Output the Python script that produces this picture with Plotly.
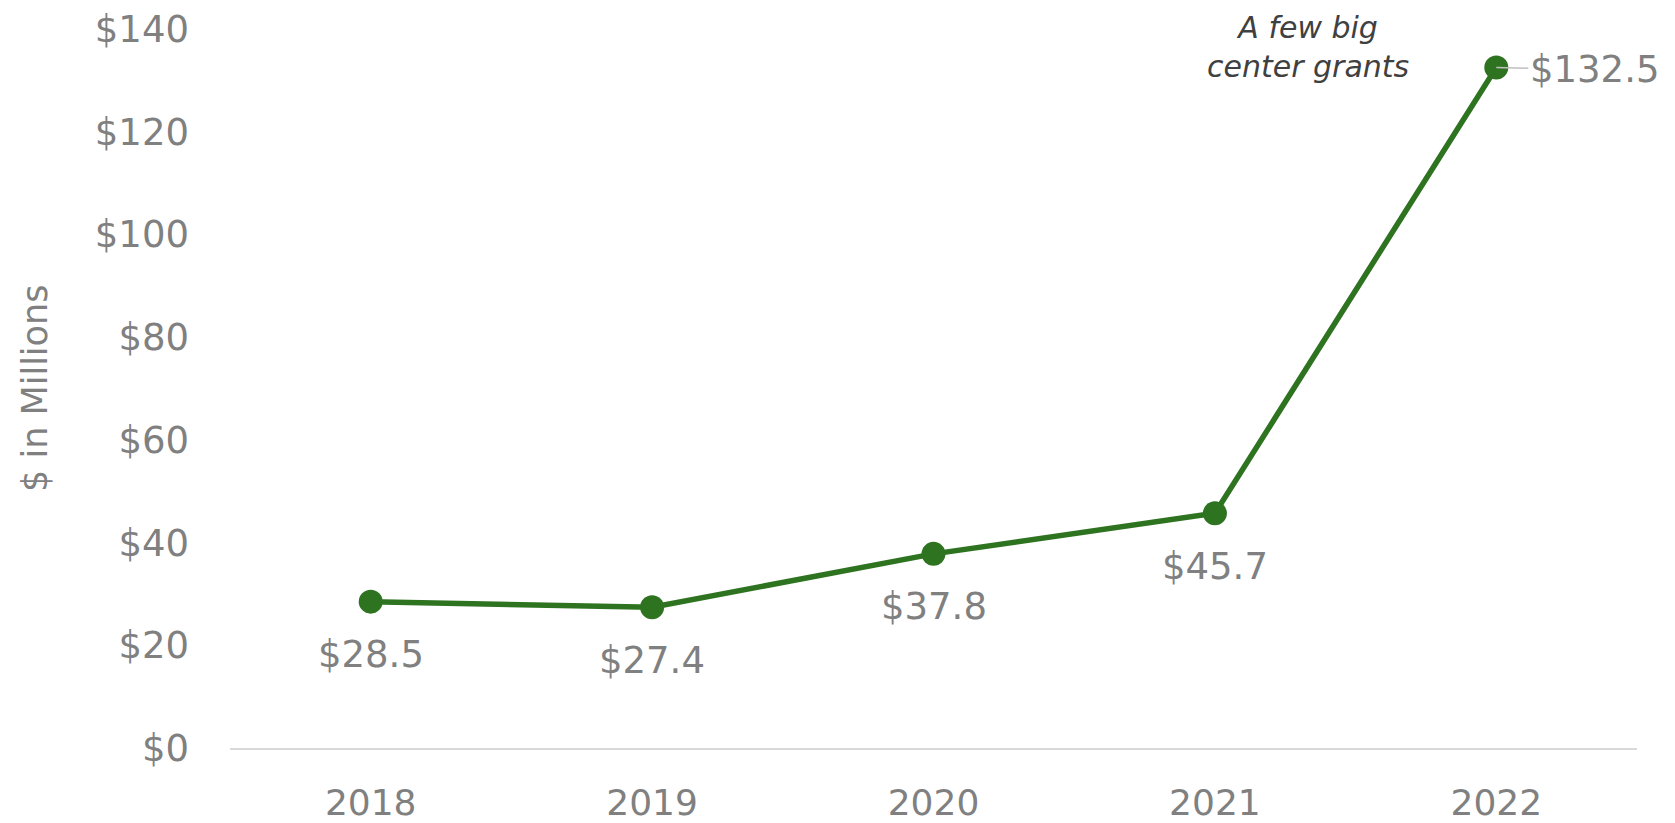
import plotly.graph_objects as go

years = ["2018", "2019", "2020", "2021", "2022"]
values = [28.5, 27.4, 37.8, 45.7, 132.5]
labels = ["$28.5", "$27.4", "$37.8", "$45.7", "$132.5"]
y_ticks = [0, 20, 40, 60, 80, 100, 120, 140]
y_tick_text = ["$0", "$20", "$40", "$60", "$80", "$100", "$120", "$140"]

GREEN = "#2e7320"
GRAY = "#808080"
FONT = "DejaVu Sans"

fig = go.Figure()
fig.add_trace(go.Scatter(
    x=years, y=values, mode="lines+markers",
    line=dict(color=GREEN, width=5.5),
    marker=dict(color=GREEN, size=24),
    hoverinfo="skip", showlegend=False,
))

# data labels (category index positions)
last = len(years) - 1
for i, (v, t) in enumerate(zip(values, labels)):
    if i < last:
        fig.add_annotation(x=i, y=v, text=t, showarrow=False, xref="x", yref="y",
                           yshift=-53, font=dict(family=FONT, size=37, color=GRAY))
    else:
        fig.add_annotation(x=i, y=v, text=t, xref="x", yref="y",
                           showarrow=True, arrowhead=0, arrowwidth=1.5,
                           arrowcolor="#bfbfbf", ax=98, ay=2, standoff=0,
                           font=dict(family=FONT, size=37, color=GRAY))

fig.add_annotation(x=last, y=values[-1], xref="x", yref="y", showarrow=False,
                   text="<i>A few big<br>center grants</i>", xshift=-188, yshift=21,
                   align="center",
                   font=dict(family=FONT, size=30, color="#404040"))

fig.add_annotation(x=-0.139, y=0.5, xref="paper", yref="paper", showarrow=False,
                   text="$ in Millions", textangle=-90, xanchor="center",
                   font=dict(family=FONT, size=35, color=GRAY))

fig.update_layout(
    width=1667, height=815,
    margin=dict(l=222, r=38, t=21, b=75),
    paper_bgcolor="white", plot_bgcolor="white",
    xaxis=dict(
        type="category", range=[-0.5, 4.5], showgrid=False,
        showline=True, linecolor="#d9d9d9", linewidth=1.5,
        ticks="", tickfont=dict(family=FONT, size=36, color=GRAY),
        ticklabelstandoff=22, zeroline=False, automargin=False,
        ticklabeloverflow="allow",
    ),
    yaxis=dict(
        range=[0, 140], tickvals=y_ticks, ticktext=y_tick_text,
        showgrid=False, zeroline=False, showline=False, ticks="",
        tickfont=dict(family=FONT, size=37, color=GRAY),
        ticklabelstandoff=40, ticklabeloverflow="allow",
        automargin=False,
    ),
)

fig.write_html("out.html")
